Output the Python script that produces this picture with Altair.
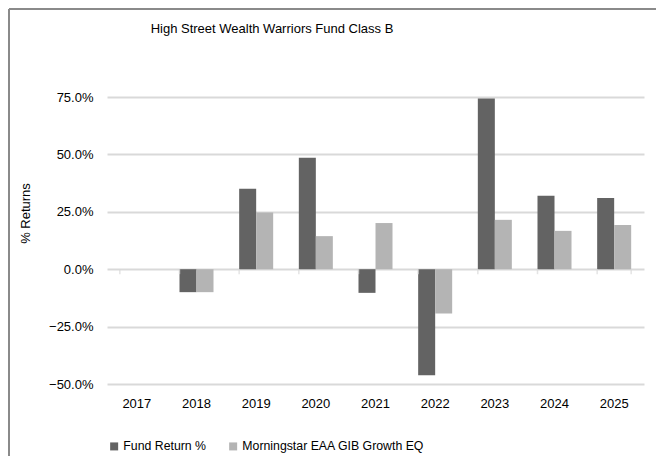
import altair as alt
import pandas as pd

title_text = "High Street Wealth Warriors Fund Class B"
years = ["2017", "2018", "2019", "2020", "2021", "2022", "2023", "2024", "2025"]
series_names = ["Fund Return %", "Morningstar EAA GIB Growth EQ"]
fund = [None, -10.0, 35.0, 48.5, -10.3, -46.2, 74.4, 32.0, 31.0]
bench = [None, -10.0, 24.7, 14.4, 20.1, -19.3, 21.5, 16.7, 19.3]
y_ticks = [-50, -25, 0, 25, 50, 75]
colors = ["#636363", "#b4b4b4"]

rows = []
for y, f, b in zip(years, fund, bench):
    rows.append({"year": y, "series": series_names[0], "value": f})
    rows.append({"year": y, "series": series_names[1], "value": b})
df = pd.DataFrame(rows)
df_years = pd.DataFrame({"year": years})
df_last = pd.DataFrame({"year": years[-1:]})

FONT = "Liberation Sans"
W, H = 537, 287

x_scale = alt.Scale(domain=years, paddingInner=0.43, paddingOuter=0.215)

bars = alt.Chart(df).mark_bar().encode(
    x=alt.X("year:N", scale=x_scale, sort=years,
            axis=alt.Axis(title=None, labelAngle=0, domain=False, ticks=False,
                          labelPadding=13, labelFontSize=13, labelColor="#000000",
                          grid=False)),
    xOffset=alt.XOffset("series:N", sort=series_names,
                        scale=alt.Scale(domain=series_names, paddingInner=0, paddingOuter=0)),
    y=alt.Y("value:Q", scale=alt.Scale(domain=[-50, 75], nice=False, zero=False),
            axis=alt.Axis(title="% Returns", values=y_ticks,
                          labelExpr="format(datum.value, '.1f') + '%'",
                          labelFontSize=13, labelColor="#000000", labelPadding=14,
                          domain=False, ticks=False, grid=True,
                          gridColor="#d9d9d9", gridWidth=2,
                          titleFontSize=13, titleFontWeight="normal", titleColor="#000000",
                          titleX=-82, titleY=116, titleAngle=-90, titleBaseline="middle")),
    color=alt.Color("series:N", sort=series_names,
                    scale=alt.Scale(domain=series_names, range=colors),
                    legend=alt.Legend(title=None, orient="none", direction="horizontal",
                                      legendX=1, legendY=343, symbolType="square",
                                      symbolSize=64, symbolStrokeWidth=0,
                                      labelFontSize=12.3, labelColor="#000000", labelLimit=0,
                                      labelOffset=3, columnPadding=20)),
)

ticks_left = alt.Chart(df_years).mark_tick(orient="vertical", size=5, thickness=1.5,
                                           color="#d9d9d9", yOffset=2.5).encode(
    x=alt.X("year:N", scale=x_scale, sort=years, bandPosition=0),
    y=alt.datum(0),
)
ticks_right = alt.Chart(df_last).mark_tick(orient="vertical", size=5, thickness=1.5,
                                           color="#d9d9d9", yOffset=2.5).encode(
    x=alt.X("year:N", scale=x_scale, sort=years, bandPosition=1),
    y=alt.datum(0),
)

title = alt.Chart(df_last).mark_text(text=title_text, fontSize=13, font=FONT,
                                     color="#000000", align="center",
                                     baseline="middle").encode(
    x=alt.value(165), y=alt.value(-68),
)

border_top = alt.Chart(df_last).mark_rule(stroke="#8a8a8a", strokeWidth=2).encode(
    x=alt.value(-98), x2=alt.value(W + 100), y=alt.value(-88),
)
border_left = alt.Chart(df_last).mark_rule(stroke="#8a8a8a", strokeWidth=2).encode(
    x=alt.value(-98), y=alt.value(-88), y2=alt.value(H + 120),
)

chart = alt.layer(bars, ticks_left, ticks_right, title, border_top, border_left).properties(
    width=W, height=H,
    padding={"left": 99, "top": 89, "right": 12, "bottom": 72},
    autosize=alt.AutoSizeParams(type="none"),
).configure(font=FONT).configure_view(stroke=None).configure_axis(
    labelFont=FONT, titleFont=FONT
).configure_legend(labelFont=FONT)

chart.save("out.html", embed_options={"renderer": "svg", "actions": False})
